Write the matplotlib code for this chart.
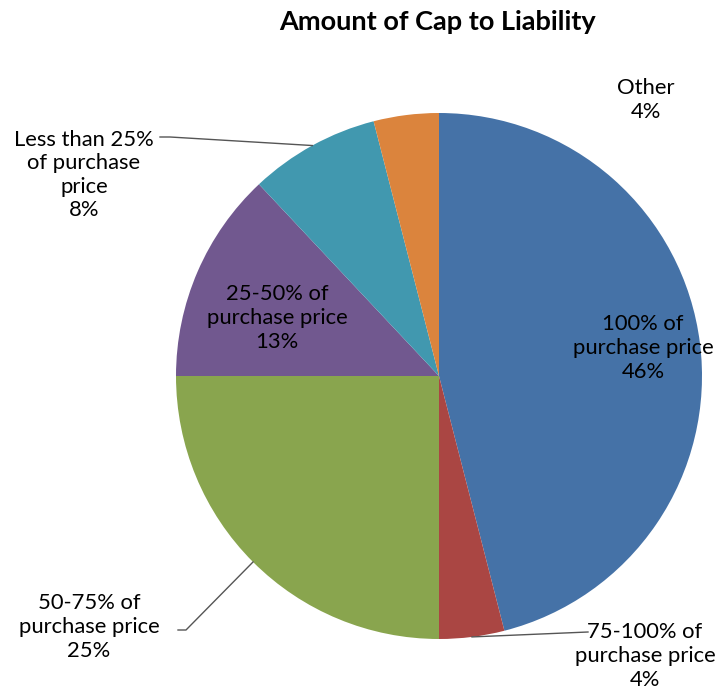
import numpy as np
import matplotlib
matplotlib.use("Agg")
import matplotlib.pyplot as plt

title = "Amount of Cap to Liability"
categories = ["100% of\npurchase price", "75-100% of\npurchase price", "50-75% of\npurchase price",
              "25-50% of\npurchase price", "Less than 25%\nof purchase\nprice", "Other"]
values = [46, 4, 25, 13, 8, 4]
colors = ["#4572A7", "#AA4643", "#89A54E", "#71588F", "#4198AF", "#DB843D"]

W, H = 721, 695
fig = plt.figure(figsize=(W / 100, H / 100), dpi=100)
ax = fig.add_axes([0, 0, 1, 1])

cx, cy, R = 439, H - 376, 263
wedges, _ = ax.pie(values, colors=colors, startangle=90, counterclock=False,
                   center=(cx, cy), radius=R, frame=True)
ax.set_xlim(0, W)
ax.set_ylim(0, H)
ax.axis("off")

font = ["Lato", "DejaVu Sans"]
fs = 15.8

def mid_point(w, r=R):
    a = np.deg2rad((w.theta1 + w.theta2) / 2)
    return cx + r * np.cos(a), cy + r * np.sin(a)

def lab(i, x, y):
    ax.text(x, H - y, f"{categories[i]}\n{values[i]}%", ha="center", va="center",
            fontsize=fs, family=font, linespacing=1.22, color="black")

# label positions (pixel layout)
lab(0, 643, 348)
lab(1, 645, 656)
lab(2, 89, 627)
lab(3, 277, 318)
lab(4, 84, 175)
lab(5, 646, 100)

lc = "#555555"
# leader lines
px, py = mid_point(wedges[4])
ax.plot([160, 170, px], [H - 137, H - 137, py], color=lc, lw=1)
px, py = mid_point(wedges[2])
ax.plot([178, 186, px], [H - 630, H - 630, py], color=lc, lw=1)
px, py = mid_point(wedges[1])
ax.plot([588, px], [H - 632, py], color=lc, lw=1)

fig.text(437 / W, 1 - 22 / H, title, ha="center", va="center", fontsize=19.5,
         fontweight="bold", family=font)

fig.savefig("out.png", dpi=100, facecolor="white")
